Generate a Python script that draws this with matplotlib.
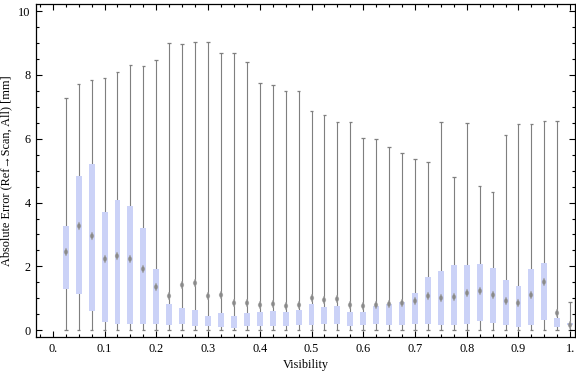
import numpy as np
import matplotlib
matplotlib.use('Agg')
import matplotlib.pyplot as plt
from matplotlib.ticker import MultipleLocator

# visibility bins (box centers)
visibility = [0.025, 0.05, 0.075, 0.1, 0.125, 0.15, 0.175, 0.2, 0.225, 0.25,
              0.275, 0.3, 0.325, 0.35, 0.375, 0.4, 0.425, 0.45, 0.475, 0.5,
              0.525, 0.55, 0.575, 0.6, 0.625, 0.65, 0.675, 0.7, 0.725, 0.75,
              0.775, 0.8, 0.825, 0.85, 0.875, 0.9, 0.925, 0.95, 0.975, 1.0]

# whisker ends
whisker_lo = [0.0] * 40
whisker_hi = [7.27, 7.71, 7.83, 7.89, 8.09, 8.30, 8.27, 8.45, 8.99, 8.97,
              9.02, 9.02, 8.70, 8.67, 8.39, 7.76, 7.67, 7.51, 7.48, 6.86,
              6.73, 6.51, 6.51, 6.01, 5.98, 5.74, 5.54, 5.38, 5.26, 6.51,
              4.79, 6.48, 4.51, 4.32, 6.13, 6.45, 6.45, 6.54, 6.54, 0.89]

# quartiles
q1 = [1.30, 1.13, 0.60, 0.25, 0.20, 0.20, 0.20, 0.20, 0.17, 0.20,
      0.14, 0.14, 0.11, 0.08, 0.14, 0.14, 0.14, 0.14, 0.16, 0.17,
      0.20, 0.20, 0.14, 0.17, 0.20, 0.17, 0.17, 0.20, 0.20, 0.17,
      0.18, 0.20, 0.28, 0.23, 0.17, 0.11, 0.17, 0.32, 0.10, 0.15]
q3 = [3.26, 4.83, 5.22, 3.70, 4.08, 3.89, 3.20, 1.91, 0.82, 0.69,
      0.63, 0.45, 0.53, 0.45, 0.53, 0.56, 0.60, 0.56, 0.63, 0.82,
      0.72, 0.76, 0.56, 0.56, 0.76, 0.82, 0.88, 1.16, 1.66, 1.85,
      2.04, 2.04, 2.07, 1.94, 1.57, 1.38, 1.91, 2.10, 0.40, 0.22]

# mean markers
mean = [2.45, 3.26, 2.94, 2.24, 2.32, 2.23, 1.91, 1.35, 1.07, 1.41,
        1.47, 1.08, 1.09, 0.84, 0.87, 0.80, 0.81, 0.77, 0.80, 1.01,
        0.95, 0.99, 0.79, 0.76, 0.78, 0.83, 0.87, 0.93, 1.07, 1.00,
        1.04, 1.18, 1.24, 1.09, 0.93, 0.87, 1.12, 1.50, 0.55, 0.18]

x_ticks = [0.0, 0.1, 0.2, 0.3, 0.4, 0.5, 0.6, 0.7, 0.8, 0.9, 1.0]
x_ticklabels = ['0.', '0.1', '0.2', '0.3', '0.4', '0.5', '0.6', '0.7', '0.8', '0.9', '1.']
y_ticks = [0, 2, 4, 6, 8, 10]


def main():
    plt.rcParams['font.family'] = ['Liberation Serif', 'DejaVu Serif']
    fig = plt.figure(figsize=(5.76, 3.77), dpi=100)
    ax = fig.add_axes([0.0625, 0.1053, 0.936, 0.8833])

    x = np.array(visibility)
    lo = np.array(whisker_lo)
    hi = np.array(whisker_hi)
    b1 = np.array(q1)
    b3 = np.array(q3)

    grey = '#7f7f7f'
    cap = 0.0035
    # whiskers and caps
    ax.vlines(x, lo, hi, color=grey, lw=0.8, zorder=1)
    ax.hlines(hi, x - cap, x + cap, color=grey, lw=0.9, zorder=1)
    ax.hlines(lo, x - cap, x + cap, color=grey, lw=0.9, zorder=1)
    # boxes
    ax.bar(x, b3 - b1, bottom=b1, width=0.0115, color=(0.798, 0.825, 0.968),
           edgecolor='none', zorder=2)
    # means
    ax.plot(x, mean, linestyle='none', marker='d', markersize=3.6,
            markerfacecolor='#8a8a8a', markeredgecolor='#a5a5a5',
            markeredgewidth=0.3, zorder=3)

    ax.set_xlim(-0.0325, 1.0095)
    ax.set_ylim(-0.22, 10.21)
    ax.set_xticks(x_ticks)
    ax.set_xticklabels(x_ticklabels)
    ax.set_yticks(y_ticks)
    ax.xaxis.set_minor_locator(MultipleLocator(0.025))
    ax.yaxis.set_minor_locator(MultipleLocator(0.5))
    ax.tick_params(which='both', direction='in', top=True, right=True,
                   labelsize=8.8, color='black')
    ax.tick_params(which='major', length=4, width=0.8)
    ax.tick_params(which='minor', length=2.3, width=0.8)
    ax.tick_params(axis='x', pad=4)
    ax.tick_params(axis='y', pad=4)
    for s in ax.spines.values():
        s.set_linewidth(0.9)

    ax.set_xlabel('Visibility', fontsize=8.8, labelpad=3)
    ax.set_ylabel('Absolute Error (Ref\u2192Scan, All) [mm]', fontsize=8.8, labelpad=4)

    fig.savefig('out.png', dpi=100)


if __name__ == '__main__':
    main()
